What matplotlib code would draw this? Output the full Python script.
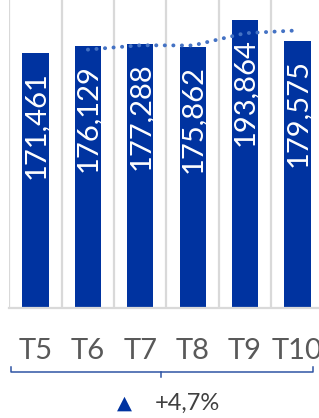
import numpy as np
import matplotlib.pyplot as plt
from matplotlib.transforms import blended_transform_factory

plt.rcParams['font.family'] = ['Lato', 'DejaVu Sans']

periods = ['T5', 'T6', 'T7', 'T8', 'T9', 'T10']
values = [171461, 176129, 177288, 175862, 193864, 179575]
growth_label = '+4,7%'

bar_color = '#0033A0'
trend_color = '#4472C4'
grid_color = '#D9D9D9'

x = np.arange(len(values))
vals = np.array(values)
# 2-period moving average trend line
trend = (vals[1:] + vals[:-1]) / 2.0

fig = plt.figure(figsize=(3.19, 4.18), dpi=100)
ax = fig.add_axes([9.3 / 319, 110.3 / 418, 314.4 / 319, 307.7 / 418])

ax.bar(x, vals, width=0.5, color=bar_color, zorder=2)
for xi, v in zip(x, vals):
    ax.annotate(f'{v:,}', (xi, v), xytext=(0, -13), textcoords='offset points',
                rotation=90, ha='center', va='top', color='white',
                fontsize=21, zorder=3)

ax.plot(x[1:], trend, color=trend_color, linewidth=2.8,
        linestyle=(0, (0.05, 2.15)), dash_capstyle='round', zorder=4)

ax.set_xlim(-0.5, 5.5)
ax.set_ylim(0, 207200)
ax.set_yticks([])
ax.set_xticks(np.arange(-0.5, len(values), 1.0), minor=True)
ax.grid(which='minor', axis='x', color=grid_color, linewidth=1.6, zorder=0)
ax.set_xticks(x, periods)
ax.tick_params(axis='x', which='both', length=0, pad=22, labelsize=21,
               labelcolor='#595959')
for s in ['top', 'right', 'left']:
    ax.spines[s].set_visible(False)
ax.spines['bottom'].set_color(grid_color)
ax.spines['bottom'].set_linewidth(1.6)

# brace under the period labels
bt = blended_transform_factory(fig.transFigure, fig.transFigure)
y0 = 1 - 371.7 / 418
yh = 1 - 366.7 / 418
yd = 1 - 376.5 / 418
xl, xr, xm = 11 / 319, 313 / 319, 161 / 319
fig.add_artist(plt.Line2D([xl, xl, xr, xr], [yh, y0, y0, yh], transform=bt,
                          color='#2F55A4', linewidth=1.1))
fig.add_artist(plt.Line2D([xm, xm], [y0, yd], transform=bt,
                          color='#2F55A4', linewidth=1.1))

fig.text(124.7 / 319, 1 - 403 / 418, '\u25B2', ha='center', va='center',
         color=bar_color, fontsize=14, family=['DejaVu Sans'])
fig.text(155 / 319, 1 - 403 / 418, growth_label, ha='left', va='center',
         color='#404040', fontsize=17)

fig.savefig('out.png', dpi=100)
